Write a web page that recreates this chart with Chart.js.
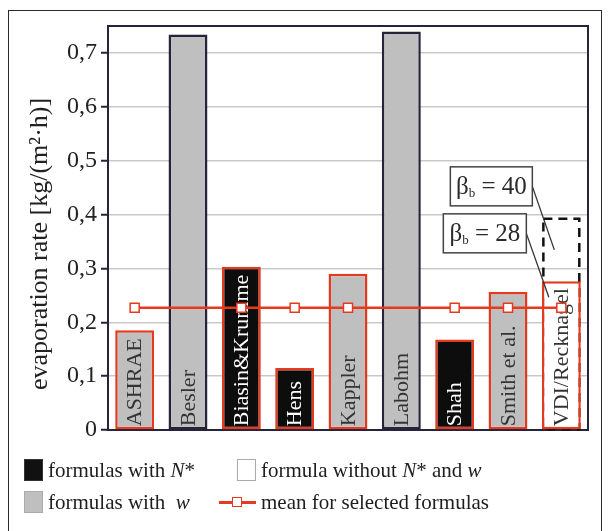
<!DOCTYPE html>
<html>
<head>
<meta charset="utf-8">
<script src="https://cdn.jsdelivr.net/npm/chart.js@4.4.1/dist/chart.umd.min.js"></script>
<style>
  html, body { margin: 0; padding: 0; background: #fff; overflow: hidden; }
  #wrap { position: relative; width: 609px; height: 531px; }
  #frame { position: absolute; left: 8px; top: 10px; width: 594px; height: 540px; border: 1.5px solid #2b2b2b; box-sizing: border-box; }
  canvas { position: absolute; left: 0; top: 0; }
  .leg { position: absolute; font-family: 'Liberation Serif', serif; font-size: 21px; color: #1e1e1e; line-height: 22px; white-space: nowrap; }
  .sw { position: absolute; width: 19px; height: 22px; box-sizing: border-box; }
</style>
</head>
<body>
<div id="wrap">
  <div id="frame"></div>
  <canvas id="chart" width="609" height="531"></canvas>

  <div class="sw" style="left:24px; top:459px; background:#111; border:1.5px solid #333;"></div>
  <div class="leg" style="left:48px; top:459px;">formulas with <i>N</i>*</div>
  <div class="sw" style="left:237px; top:459px; background:#fff; border:1.5px solid #aaa;"></div>
  <div class="leg" style="left:261px; top:459px;">formula without <i>N</i>* and <i>w</i></div>

  <div class="sw" style="left:24px; top:491px; background:#bfbfbf; border:1.5px solid #aaa;"></div>
  <div class="leg" style="left:48px; top:491px;">formulas with&nbsp; <i>w</i></div>
  <div style="position:absolute; left:219px; top:501px; width:37px; height:3px; background:#e63a20;"></div>
  <div style="position:absolute; left:232px; top:497px; width:10px; height:10px; box-sizing:border-box; background:#fff; border:1.5px solid #e63a20;"></div>
  <div class="leg" style="left:261px; top:491px;">mean for selected formulas</div>
</div>

<script>
  // Datos
  const categories = ['ASHRAE', 'Besler', 'Biasin&Krumme', 'Hens', 'Kappler', 'Labohm', 'Shah', 'Smith et al.', 'VDI/Recknagel'];
  const evaporation = [0.185, 0.734, 0.303, 0.115, 0.290, 0.740, 0.168, 0.256, 0.276];
  // 'w' = formula with w, 'N' = formula with N*, 'none' = without N* and w
  const formulaType = ['w', 'w', 'N', 'N', 'w', 'w', 'N', 'w', 'none'];
  const selected = [true, false, true, true, true, false, true, true, true];
  const meanLine = [0.227, 0.227, 0.227, 0.227, 0.227, 0.227, 0.227, 0.227, 0.227];
  const vdiBeta40 = 0.392;
  const betaValues = [40, 28];
  const yTickLabels = ['0', '0,1', '0,2', '0,3', '0,4', '0,5', '0,6', '0,7'];
  const yTitle = 'evaporation rate [kg/(m²·h)]';

  const SERIF = "'Liberation Serif', 'Times New Roman', serif";
  const RED = '#e63a20';
  const DARK = '#26233a';

  const fills = { w: '#bfbfbf', N: '#0d0d0d', none: '#ffffff' };

  const barColors = formulaType.map(t => fills[t]);
  const barBorders = selected.map(s => s ? RED : DARK);
  const labelColors = formulaType.map(t => t === 'N' ? '#ffffff' : '#333333');

  /* ============================
          EXTRAS (marco, etiquetas, anotaciones)
  ============================ */
  const extras = {
    id: 'extras',
    beforeDatasetsDraw(chart) {
      const { ctx, chartArea: a, scales: { y } } = chart;
      // marco del área de trazado
      ctx.save();
      ctx.strokeStyle = DARK;
      ctx.lineWidth = 2;
      ctx.strokeRect(a.left, a.top, a.right - a.left, a.bottom - a.top);

      // caja discontinua β_b = 40 para VDI
      const bar = chart.getDatasetMeta(0).data[8];
      const x0 = bar.x - bar.width / 2 + 1.5;
      const x1 = bar.x + bar.width / 2 - 1.5;
      const yTop = y.getPixelForValue(vdiBeta40);
      ctx.setLineDash([9, 6]);
      ctx.lineWidth = 2.5;
      ctx.strokeStyle = '#111';
      ctx.strokeRect(x0, yTop, x1 - x0, bar.base - yTop);
      ctx.restore();
    },
    afterDatasetDraw(chart, args) {
      if (args.index !== 0) return;
      const { ctx } = chart;
      const bars = chart.getDatasetMeta(0).data;
      ctx.save();
      ctx.font = '22px ' + SERIF;
      ctx.textAlign = 'left';
      ctx.textBaseline = 'middle';
      bars.forEach((bar, i) => {
        ctx.save();
        ctx.translate(bar.x + 1, bar.base - 3);
        ctx.rotate(-Math.PI / 2);
        ctx.fillStyle = labelColors[i];
        ctx.fillText(categories[i], 0, 0);
        ctx.restore();
      });
      ctx.restore();
    },
    afterDatasetsDraw(chart) {
      const { ctx, scales: { y } } = chart;
      const bar = chart.getDatasetMeta(0).data[8];
      const yTop = y.getPixelForValue(vdiBeta40);

      const boxes = [
        { x: bar.x - 111, y: yTop - 52, w: 82, h: 39, tx: bar.x - 7, ty: yTop + 31 },
        { x: bar.x - 118, y: yTop - 5, w: 83, h: 39, tx: bar.x - 12.5, ty: bar.y + 16 }
      ];

      ctx.save();
      boxes.forEach((b, i) => {
        // línea guía
        ctx.strokeStyle = '#333';
        ctx.lineWidth = 1.3;
        ctx.beginPath();
        ctx.moveTo(b.x + b.w, b.y + b.h / 2);
        ctx.lineTo(b.tx, b.ty);
        ctx.stroke();

        ctx.fillStyle = '#fff';
        ctx.fillRect(b.x, b.y, b.w, b.h);
        ctx.strokeStyle = '#444';
        ctx.lineWidth = 1.5;
        ctx.strokeRect(b.x, b.y, b.w, b.h);

        const big = '25px ' + SERIF;
        const small = '13px ' + SERIF;
        const rest = ' = ' + betaValues[i];
        ctx.font = big;
        const wBeta = ctx.measureText('β').width;
        const wRest = ctx.measureText(rest).width;
        ctx.font = small;
        const wSub = ctx.measureText('b').width;
        let tx = b.x + (b.w - (wBeta + wSub + wRest)) / 2;
        const base = b.y + b.h / 2 + 8;
        ctx.fillStyle = '#2a2a2a';
        ctx.textBaseline = 'alphabetic';
        ctx.textAlign = 'left';
        ctx.font = big;
        ctx.fillText('β', tx, base);
        tx += wBeta;
        ctx.font = small;
        ctx.fillText('b', tx, base + 3);
        tx += wSub;
        ctx.font = big;
        ctx.fillText(rest, tx, base);
      });
      ctx.restore();
    },
    afterDraw(chart) {
      const { ctx } = chart;
      ctx.save();
      ctx.translate(40, 244);
      ctx.rotate(-Math.PI / 2);
      ctx.font = '26px ' + SERIF;
      ctx.fillStyle = '#222';
      ctx.textAlign = 'center';
      ctx.textBaseline = 'middle';
      ctx.fillText(yTitle, 0, 0);
      ctx.restore();
    }
  };

  /* ============================
          GRÁFICO
  ============================ */
  new Chart(document.getElementById('chart').getContext('2d'), {
    data: {
      labels: categories,
      datasets: [
        {
          type: 'bar',
          label: 'evaporation rate',
          data: evaporation,
          backgroundColor: barColors,
          borderColor: barBorders,
          borderWidth: 2.5,
          borderSkipped: false,
          barPercentage: 0.73,
          categoryPercentage: 1,
          order: 1
        },
        {
          type: 'line',
          label: 'mean for selected formulas',
          data: meanLine,
          borderColor: RED,
          borderWidth: 2.5,
          pointStyle: 'rect',
          pointRadius: selected.map(s => s ? 6.4 : 0),
          pointBackgroundColor: '#fff',
          pointBorderColor: RED,
          pointBorderWidth: 1.5,
          order: 0
        }
      ]
    },
    options: {
      responsive: false,
      animation: false,
      layout: { padding: { left: 8, top: 26, right: 21, bottom: 101 } },
      plugins: {
        legend: { display: false },
        tooltip: { enabled: false }
      },
      scales: {
        x: { type: 'category', display: false },
        y: {
          min: 0,
          max: 0.75,
          afterFit(scale) { scale.width = 100; },
          afterBuildTicks(scale) { scale.ticks = scale.ticks.filter(t => t.value <= 0.7001); },
          ticks: {
            stepSize: 0.1,
            padding: 4,
            color: '#222',
            font: { family: SERIF, size: 24 },
            callback: (v, i) => yTickLabels[i]
          },
          grid: {
            color: '#c9c9c9',
            lineWidth: 1.5,
            tickLength: 7,
            tickColor: DARK,
            tickWidth: 2
          },
          border: { display: false }
        }
      }
    },
    plugins: [extras]
  });
</script>
</body>
</html>
